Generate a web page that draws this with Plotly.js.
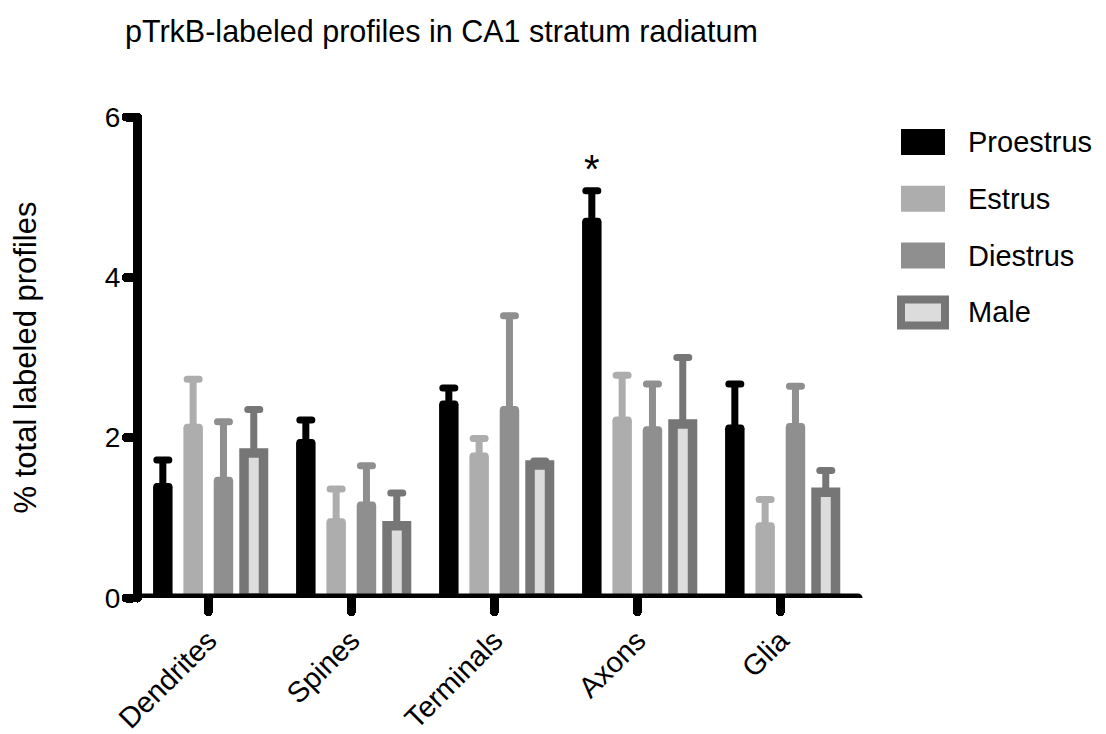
<!DOCTYPE html>
<html>
<head>
<meta charset="utf-8">
<script src="https://cdn.plot.ly/plotly-3.0.1.min.js"></script>
<style>
  html, body { margin: 0; padding: 0; background: #ffffff; }
  #chart { width: 1106px; height: 734px; }
  /* rounded ends on ticks, error bars and the baseline */
  .js-plotly-plot path.xtick, .js-plotly-plot path.ytick { stroke-linecap: round; }
  .js-plotly-plot .errorbar path { stroke-linecap: round; }
  .js-plotly-plot .shapelayer path { stroke-linecap: round; }
  .js-plotly-plot .ylines-above, .js-plotly-plot .xlines-above { stroke-linecap: round; }
</style>
</head>
<body>
<div id="chart"></div>
<script>
// Compartments along the x axis
const categories = ['Dendrites', 'Spines', 'Terminals', 'Axons', 'Glia'];

// Group names
const seriesNames = ['Proestrus', 'Estrus', 'Diestrus', 'Male'];

// Mean % of total labeled profiles and SEM for each group
const proestrus    = [1.39, 1.94, 2.42, 4.70, 2.12];
const proestrusSem = [0.33, 0.28, 0.20, 0.38, 0.55];
const estrus       = [2.13, 0.95, 1.77, 2.22, 0.90];
const estrusSem    = [0.60, 0.41, 0.22, 0.56, 0.33];
const diestrus     = [1.47, 1.16, 2.35, 2.10, 2.14];
const diestrusSem  = [0.73, 0.49, 1.17, 0.57, 0.50];
const male         = [1.81, 0.90, 1.66, 2.17, 1.32];
const maleSem      = [0.54, 0.41, 0.05, 0.83, 0.27];

// Significance marker: category and group it sits above
const sigCategory = 'Axons';
const sigSeries = 0;
const sigLabel = '*';

// Y axis ticks
const yTicks = [0, 2, 4, 6];

// ---- styling ----
const W = 1106, H = 734;
const M = { l: 142, r: 248, t: 117, b: 136 };
const plotW = W - M.l - M.r;
const plotH = H - M.t - M.b;
const FONT = 'Liberation Sans, Arial, Helvetica, sans-serif';

const BARGAP = 0.152;
const BARGROUPGAP = 0.357;

const styles = [
  { fill: '#000000', line: '#000000', lw: 0,   err: '#000000' },
  { fill: '#adadad', line: '#adadad', lw: 0,   err: '#adadad' },
  { fill: '#8f8f8f', line: '#8f8f8f', lw: 0,   err: '#8f8f8f' },
  { fill: '#dcdcdc', line: '#767676', lw: 9.5, err: '#767676' }
];
const values = [proestrus, estrus, diestrus, male];
const sems = [proestrusSem, estrusSem, diestrusSem, maleSem];

const traces = seriesNames.map((name, i) => ({
  type: 'bar',
  name: name,
  x: categories,
  y: values[i],
  marker: { color: styles[i].fill, line: { color: styles[i].line, width: styles[i].lw } },
  error_y: {
    type: 'data',
    symmetric: false,
    array: sems[i],
    arrayminus: sems[i].map(() => 0),
    color: styles[i].err,
    thickness: 7,
    width: 6
  },
  showlegend: false,
  hoverinfo: 'skip'
}));

// pixel -> paper helpers for the hand-laid legend
const pxX = px => (px - M.l) / plotW;
const pxY = py => 1 - (py - M.t) / plotH;

const shapes = [];
const annotations = [];

// baseline along y = 0, drawn above the bars
shapes.push({
  type: 'line', xref: 'paper', yref: 'y',
  x0: pxX(137), x1: 1, y0: 0, y1: 0,
  line: { color: '#000000', width: 9 },
  layer: 'above'
});

// legend
const legX0 = 901, legX1 = 945, legTop = 129, legStep = 56.8, legH = 26;
seriesNames.forEach((name, i) => {
  const yc = legTop + legH / 2 + i * legStep;
  const isMale = styles[i].lw > 0;
  shapes.push({
    type: 'rect', xref: 'paper', yref: 'paper',
    x0: pxX(legX0), x1: pxX(legX1),
    y0: pxY(yc - legH / 2), y1: pxY(yc + legH / 2),
    fillcolor: styles[i].fill,
    line: { color: styles[i].line, width: isMale ? 8 : 0 },
    layer: 'above'
  });
  annotations.push({
    xref: 'paper', yref: 'paper',
    x: pxX(966), y: pxY(yc),
    xanchor: 'left', yanchor: 'middle',
    text: name, showarrow: false,
    font: { family: FONT, size: 29, color: '#000000' }
  });
});

// significance star over the proestrus axon bar
const catIdx = categories.indexOf(sigCategory);
const slot = (1 - BARGAP) / seriesNames.length;
const sigX = catIdx + (sigSeries - (seriesNames.length - 1) / 2) * slot;
annotations.push({
  xref: 'x', yref: 'y',
  x: sigX, y: values[sigSeries][catIdx] + sems[sigSeries][catIdx],
  xanchor: 'center', yanchor: 'bottom', yshift: -2,
  text: sigLabel, showarrow: false,
  font: { family: FONT, size: 40, color: '#000000' }
});

const layout = {
  width: W, height: H,
  margin: M,
  paper_bgcolor: '#ffffff',
  plot_bgcolor: '#ffffff',
  barmode: 'group',
  bargap: BARGAP,
  bargroupgap: BARGROUPGAP,
  showlegend: false,
  font: { family: FONT, color: '#000000' },
  title: {
    text: 'pTrkB-labeled profiles in CA1 stratum radiatum',
    font: { family: FONT, size: 30.5, color: '#000000' },
    xref: 'container', x: 125 / W, xanchor: 'left',
    yref: 'container', y: 1 - 31 / H, yanchor: 'middle'
  },
  xaxis: {
    type: 'category',
    range: [(M.l - 208.3) / 143, (W - M.r - 208.3) / 143],
    showline: false,
    showgrid: false,
    zeroline: false,
    ticks: 'outside',
    ticklen: 13,
    tickwidth: 9,
    tickcolor: '#000000',
    tickangle: -45,
    tickfont: { family: FONT, size: 29, color: '#000000' },
    fixedrange: true
  },
  yaxis: {
    range: [0, 6],
    tickvals: yTicks,
    ticktext: yTicks.map(String),
    showline: true,
    linewidth: 9,
    linecolor: '#000000',
    showgrid: false,
    zeroline: false,
    ticks: 'outside',
    ticklen: 7,
    tickwidth: 9,
    tickcolor: '#000000',
    tickfont: { family: FONT, size: 28, color: '#000000' },
    title: {
      text: '% total labeled profiles',
      font: { family: FONT, size: 31, color: '#000000' },
      standoff: 62
    },
    fixedrange: true
  },
  shapes: shapes,
  annotations: annotations
};

Plotly.newPlot('chart', traces, layout, { displayModeBar: false, staticPlot: true });
</script>
</body>
</html>
